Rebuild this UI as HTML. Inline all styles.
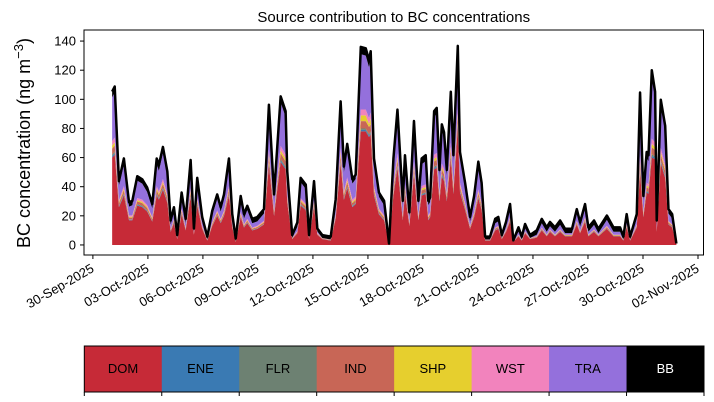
<!DOCTYPE html>
<html><head><meta charset="utf-8"><style>
body{margin:0;background:#fff;width:714px;height:402px;overflow:hidden}
svg{display:block;font-family:"Liberation Sans","DejaVu Sans",sans-serif}
</style></head><body>
<svg id="chart" width="714" height="402"></svg>
<script>
const days=[0.05,0.19,0.42,0.69,0.97,1.15,1.42,1.69,1.96,2.24,2.48,2.60,2.82,3.06,3.24,3.42,3.60,3.84,4.06,4.33,4.51,4.69,4.96,5.24,5.51,5.78,5.97,6.15,6.42,6.60,6.79,7.06,7.24,7.42,7.69,7.97,8.33,8.60,8.88,9.24,9.51,9.60,9.87,10.15,10.33,10.61,10.79,11.06,11.24,11.51,11.97,12.24,12.51,12.69,12.87,13.15,13.33,13.61,13.88,14.06,14.15,14.33,14.60,14.88,15.15,15.39,15.61,15.90,16.02,16.26,16.51,16.75,16.93,17.15,17.29,17.39,17.61,17.75,17.90,18.03,18.15,18.30,18.52,18.66,18.90,19.02,19.30,19.57,19.79,20.02,20.20,20.39,20.66,20.94,21.11,21.30,21.53,21.75,21.93,22.21,22.39,22.57,22.84,23.21,23.48,23.75,23.93,24.20,24.48,24.75,25.13,25.39,25.57,25.84,26.02,26.33,26.57,27.03,27.39,27.75,27.93,28.11,28.30,28.66,28.84,29.02,29.20,29.30,29.48,29.66,29.75,29.97,30.21,30.39,30.59,30.82];
const dom=[60,62,26,34,17,17,27,26,23,16,34,31,38,29,9,15,4,21,10,33,7,27,11,3,13,20,15,20,34,12,2,19,12,15,10,11,14,55,20,57,52,29,4,8,27,24,4,26,7,4,3,18,56,31,39,26,28,78,78,74,76,34,21,17,1,34,53,17,35,13,48,17,34,35,17,19,52,53,30,47,44,30,59,35,81,36,24,11,19,32,24,3,3,10,11,4,9,16,2,6,3,8,4,5,10,6,9,6,9,6,6,14,8,16,6,9,6,11,6,6,3,12,3,12,50,19,36,35,60,59,9,56,46,14,12,1];
const ene=[1,1.1,.4,.6,.3,.3,.5,.5,.4,.3,.6,.5,.7,.5,.2,.3,.1,.4,.2,.6,.1,.5,.2,.1,.2,.3,.3,.3,.6,.2,0,.3,.2,.3,.2,.2,.2,.9,.3,1,.9,.5,.1,.1,.5,.4,.1,.4,.1,.1,.1,.3,1,.5,.7,.5,.5,1,1,1,1,.6,.4,.3,0,.6,.9,.3,.6,.2,.8,.3,.6,.6,.3,.3,.9,.9,.5,.8,.8,.5,1,.6,1.2,.6,.4,.2,.3,.6,.4,.1,.1,.2,.2,.1,.2,.3,0,.1,.1,.1,.1,.1,.2,.1,.2,.1,.2,.1,.1,.2,.1,.3,.1,.2,.1,.2,.1,.1,.1,.2,.1,.2,1.1,.3,.6,.6,1.2,1,.2,1,.8,.2,.2,0];
const flr=[1,1.1,.4,.6,.3,.3,.5,.5,.4,.3,.6,.5,.7,.5,.2,.3,.1,.4,.2,.6,.1,.5,.2,.1,.2,.3,.3,.3,.6,.2,0,.3,.2,.3,.2,.2,.2,.9,.3,1,.9,.5,.1,.1,.5,.4,.1,.4,.1,.1,.1,.3,1,.5,.7,.5,.5,1,1,1,1,.6,.4,.3,0,.6,.9,.3,.6,.2,.8,.3,.6,.6,.3,.3,.9,.9,.5,.8,.8,.5,1,.6,1.2,.6,.4,.2,.3,.6,.4,.1,.1,.2,.2,.1,.2,.3,0,.1,.1,.1,.1,.1,.2,.1,.2,.1,.2,.1,.1,.2,.1,.3,.1,.2,.1,.2,.1,.1,.1,.2,.1,.2,1.1,.3,.6,.6,1.2,1,.2,1,.8,.2,.2,0];
const ind=[4.1,4.3,1.8,2.3,1.2,1.2,1.9,1.8,1.6,1.1,2.3,2.2,2.6,2,.6,1,.3,1.4,.7,2.3,.5,1.8,.8,.2,.9,1.4,1,1.4,2.3,.8,.2,1.3,.8,1,.7,.8,1,3.8,1.4,4,3.6,2,.3,.6,1.8,1.6,.3,1.8,.5,.3,.2,1.2,3.8,2.1,2.7,1.8,1.9,5,5,5,5,2.3,1.4,1.2,0,2.3,3.6,1.2,2.4,.9,3.3,1.2,2.3,2.4,1.2,1.3,3.6,3.7,2,3.2,3,2,4.1,2.4,4.6,2.5,1.7,.8,1.3,2.2,1.7,.2,.2,.7,.8,.3,.6,1.1,.1,.4,.2,.5,.3,.4,.7,.4,.6,.4,.6,.4,.4,1,.6,1.1,.4,.6,.4,.8,.4,.4,.2,.8,.2,.8,4.2,1.3,2.5,2.4,4.7,4.1,.6,3.9,3.2,1,.8,0];
const shp=[2.1,2.1,.9,1.2,.6,.6,.9,.9,.8,.6,1.2,1.1,1.3,1,.3,.5,.1,.7,.3,1.1,.2,.9,.4,.1,.5,.7,.5,.7,1.2,.4,.1,.7,.4,.5,.3,.4,.5,1.9,.7,2,1.8,1,.1,.3,.9,.8,.1,.9,.2,.1,.1,.6,1.9,1.1,1.3,.9,1,4,4,2,4,1.2,.7,.6,0,1.2,1.8,.6,1.2,.4,1.7,.6,1.2,1.2,.6,.6,1.8,1.8,1,1.6,1.5,1,2,1.2,2.3,1.2,.8,.4,.7,1.1,.8,.1,.1,.3,.4,.1,.3,.6,0,.2,.1,.3,.1,.2,.3,.2,.3,.2,.3,.2,.2,.5,.3,.6,.2,.3,.2,.4,.2,.2,.1,.4,.1,.4,2.1,.7,1.2,1.2,2.4,2,.3,1.9,1.6,.5,.4,0];
const wst=[3.1,3.2,1.3,1.7,.9,.9,1.4,1.4,1.2,.8,1.7,1.6,2,1.5,.5,.8,.2,1.1,.5,1.7,.4,1.4,.6,.2,.7,1,.8,1,1.7,.6,.1,1,.6,.8,.5,.6,.7,2.8,1,3,2.7,1.5,.2,.4,1.4,1.2,.2,1.3,.4,.2,.2,.9,2.9,1.6,2,1.4,1.4,4,4,4,4,1.7,1.1,.9,0,1.7,2.7,.9,1.8,.7,2.5,.9,1.7,1.8,.9,1,2.7,2.8,1.5,2.4,2.3,1.5,3.1,1.8,3.4,1.9,1.3,.6,1,1.7,1.3,.2,.2,.5,.6,.2,.5,.8,0,.3,.2,.4,.2,.3,.5,.3,.5,.3,.5,.3,.3,.7,.4,.8,.3,.5,.3,.6,.3,.3,.2,.6,.2,.6,3.2,1,1.9,1.8,3.5,3.1,.5,2.9,2.4,.7,.6,0];
const tra=[30,31,10,15,6,7,12,11,9,6,15,14,18,12,3,5,0,8,3,15,1,11,3,0,5,8,5,8,15,4,0,8,4,6,3,3,5,27,8,30,26,12,0,3,11,10,0,10,1,0,0,7,28,13,19,11,12,38,37,35,37,15,8,7,0,15,26,7,16,4,24,7,15,16,7,7,26,27,12,23,21,12,31,16,38,17,11,3,8,15,11,0,0,3,3,0,2,6,0,2,0,2,0,1,3,2,2,2,3,1,1,5,3,6,2,3,1,4,2,2,0,4,0,4,38,8,17,16,42,31,3,29,23,5,4,0];
const bb=[4,4,3,4,3,3,3,3,3,3,4,4,4,4,3,3,2,3,3,4,2,3,3,2,3,3,3,3,4,3,2,3,3,3,3,3,3,4,3,4,4,4,2,3,3,3,2,3,2,2,2,3,4,4,4,3,3,5,5,5,5,4,3,3,0,4,4,3,4,3,4,3,4,4,3,3,4,4,4,4,4,4,4,4,5,4,3,3,3,4,3,2,2,3,3,2,3,3,1,3,2,3,2,3,3,3,3,3,3,3,3,3,3,3,3,3,3,3,3,3,2,3,2,3,5,3,4,4,5,4,3,4,4,3,3,0];
const yTicks=[0,20,40,60,80,100,120,140];
const xTickLabels=["30-Sep-2025","03-Oct-2025","06-Oct-2025","09-Oct-2025","12-Oct-2025","15-Oct-2025","18-Oct-2025","21-Oct-2025","24-Oct-2025","27-Oct-2025","30-Oct-2025","02-Nov-2025"];
const xTickDays=[-1,2,5,8,11,14,17,20,23,26,29,32];
const sources=["DOM","ENE","FLR","IND","SHP","WST","TRA","BB"];
const colors=["#c62a37","#3a7ab3","#6d8172","#c86656","#e6cf2e","#f283bd","#9470dc","#000000"];

const NS="http://www.w3.org/2000/svg";
const svg=document.getElementById('chart');
const L=84,R=703.5,T=30,B=255;
const d0=-1.485,d1=32.3,v0=-6.9,v1=147.6;
const X=d=>L+(d-d0)/(d1-d0)*(R-L);
const Y=v=>B-(v-v0)/(v1-v0)*(B-T);
function mk(tag,attrs,parent){const e=document.createElementNS(NS,tag);for(const k in attrs)e.setAttribute(k,attrs[k]);(parent||svg).appendChild(e);return e;}

const layers=[dom,ene,flr,ind,shp,wst,tra,bb];
let base=days.map(()=>0);
const gArea=mk('g',{});


layers.forEach((arr,li)=>{
  const top=base.map((b,i)=>b+arr[i]);
  let d='M'+days.map((t,i)=>X(t).toFixed(2)+','+Y(top[i]).toFixed(2)).join(' L');
  for(let i=days.length-1;i>=0;i--)d+=' L'+X(days[i]).toFixed(2)+','+Y(base[i]).toFixed(2);
  d+='Z';
  const p=mk('path',{d:d,fill:colors[li],stroke:'none'},gArea);
  
  
  base=top;
});
const line=mk('path',{d:'M'+days.map((t,i)=>X(t).toFixed(2)+','+Y(base[i]).toFixed(2)).join(' L'),fill:'none',stroke:'#000','stroke-width':2.5,'stroke-linejoin':'round'});



const frame=mk('rect',{x:L,y:T,width:R-L,height:B-T,fill:'none',stroke:'#000','stroke-width':1});



yTicks.forEach(v=>{
  const y=Y(v);
  mk('line',{x1:L-4,x2:L,y1:y,y2:y,stroke:'#000'});
  const t=mk('text',{x:L-8,y:y+4.5,'text-anchor':'end','font-size':13});
  t.textContent=v;
  
  
});
xTickDays.forEach((dd,i)=>{
  const x=X(dd);
  mk('line',{x1:x,x2:x,y1:B,y2:B+4,stroke:'#000'});
  const t=mk('text',{x:x+2,y:B+16,'text-anchor':'end','font-size':13,transform:`rotate(-30 ${x+2} ${B+16})`});
  t.textContent=xTickLabels[i];
  
  
});
const title=mk('text',{x:(L+R)/2,y:22,'text-anchor':'middle','font-size':15});
title.textContent='Source contribution to BC concentrations';


const yl=mk('text',{x:30,y:143,'text-anchor':'middle','font-size':18,transform:'rotate(-90 30 143)'});
yl.innerHTML='BC concentration (ng m<tspan dy="-7" font-size="13">−3</tspan><tspan dy="7">)</tspan>';



const cL=84.3,cR=704,cT=346,cB=392,cw=(cR-cL)/sources.length;
sources.forEach((s,i)=>{
  const r=mk('rect',{x:cL+i*cw,y:cT,width:cw+0.5,height:cB-cT,fill:colors[i]});
  
  
  const t=mk('text',{x:cL+(i+0.5)*cw,y:cT+27,'text-anchor':'middle','font-size':13,fill:s==='BB'?'#fff':'#000'});
  t.textContent=s;
  
  
});
for(let i=0;i<=sources.length;i++){const x=cL+i*cw;mk('line',{x1:x,x2:x,y1:cB,y2:cB+4,stroke:'#000'});}
const cf=mk('rect',{x:cL,y:cT,width:cR-cL,height:cB-cT,fill:'none',stroke:'#000'});


</script>
</body></html>
